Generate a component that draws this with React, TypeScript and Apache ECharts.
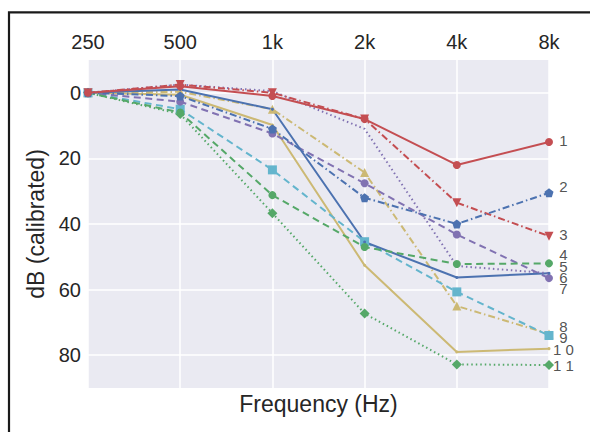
import React, { useEffect, useRef } from "react";
import * as echarts from "echarts";

const categories = ["250", "500", "1k", "2k", "4k", "8k"];
const yTicks = [0, 20, 40, 60, 80];

const s1 = [0, -2, 1, 8, 22, 15];
const s2 = [0, 1, 11, 32, 40, 30.5];
const s3 = [0, -2.5, 0, 8, 33.5, 43.7];
const s4 = [0, 6, 31.2, 47, 52.2, 52];
const s5 = [0, -2.5, -0.5, 11, 52.8, 55];
const s6 = [0, -1, 5, 45.5, 56.3, 55];
const s7 = [0, 2.7, 12.4, 27.6, 43.2, 56.5];
const s8 = [0, 5, 23.5, 45.4, 60.7, 74];
const s9 = [0, -0.3, 5, 24.3, 65, 73.5];
const s10 = [0, 0.6, 9.8, 52.6, 79, 78];
const s11 = [0, 6.5, 36.7, 67.3, 82.8, 83];

const endLabels = ["1", "2", "3", "4", "5", "6", "7", "8", "9", "1 0", "1 1"];
const endLabelY = [14.4, 28.6, 43.2, 49.3, 52.9, 56.4, 59.8, 71.2, 74.6, 78.4, 83.0];

const BLUE = "#4C72B0";
const GREEN = "#55A868";
const RED = "#C44E52";
const PURPLE = "#8172B2";
const YELLOW = "#CCB974";
const CYAN = "#64B5CD";

const DOT = [1.5, 3];
const DASH = [7, 4.5];
const DASHDOT = [7, 3, 1.5, 3];

const PENTAGON = "path://M0,-10 L9.51,-3.09 L5.88,8.09 L-5.88,8.09 L-9.51,-3.09 Z";

const FONT = "Liberation Sans";
const TEXT = "#262626";

function line(data: number[], color: string, type: any, symbol: string, size: number, rotate = 0, z = 2) {
  return {
    type: "line",
    data,
    symbol,
    symbolSize: size,
    symbolRotate: rotate,
    showSymbol: symbol !== "none",
    z,
    clip: false,
    lineStyle: { color, width: 2, type },
    itemStyle: { color },
    emphasis: { disabled: true },
  };
}

export default function App() {
  const ref = useRef<HTMLDivElement>(null);
  useEffect(() => {
    if (!ref.current) return;
    const chart = echarts.init(ref.current, undefined, { renderer: "svg" });
    const series: any[] = [
      line(s11, GREEN, DOT, "diamond", 10),
      line(s10, YELLOW, "solid", "circle", 3),
      line(s9, YELLOW, DASHDOT, "triangle", 9),
      line(s8, CYAN, DASH, "rect", 9),
      line(s7, PURPLE, DASH, "circle", 8),
      line(s6, BLUE, "solid", "circle", 3),
      line(s5, PURPLE, DOT, "none", 0),
      line(s4, GREEN, DASH, "circle", 8),
      line(s3, RED, DASHDOT, "triangle", 9, 180),
      line(s2, BLUE, DASHDOT, PENTAGON, 9),
      line(s1, RED, "solid", "circle", 8, 0, 3),
      {
        type: "scatter",
        data: endLabelY.map((v) => [5, v]),
        symbolSize: 0,
        silent: true,
        clip: false,
        label: {
          show: true,
          position: "right",
          distance: 14.5,
          align: "center",
          formatter: (p: any) => endLabels[p.dataIndex],
          fontFamily: FONT,
          fontSize: 15,
          lineHeight: 11,
          color: TEXT,
        },
      },
    ];
    chart.setOption({
      animation: false,
      grid: {
        left: 88,
        top: 60,
        width: 461,
        height: 328,
        show: true,
        backgroundColor: "#EAEAF2",
        borderWidth: 0,
      },
      graphic: [
        {
          type: "rect",
          shape: { x: 9, y: 12.3, width: 700, height: 600 },
          style: { fill: "none", stroke: "#1a1a1a", lineWidth: 2.2 },
          silent: true,
          z: 100,
        },
      ],
      xAxis: [
        {
          type: "category",
          data: categories,
          position: "top",
          boundaryGap: false,
          axisLine: { show: false },
          axisTick: { show: false },
          axisLabel: { fontFamily: FONT, fontSize: 20, color: TEXT, margin: 8 },
          splitLine: { show: true, lineStyle: { color: "#ffffff", width: 1.5 } },
        },
        {
          type: "category",
          data: categories,
          position: "bottom",
          boundaryGap: false,
          axisLine: { show: false },
          axisTick: { show: false },
          axisLabel: { show: false },
          splitLine: { show: false },
          name: "Frequency (Hz)",
          nameLocation: "middle",
          nameGap: 4,
          nameTextStyle: { fontFamily: FONT, fontSize: 23, color: TEXT, verticalAlign: "top" },
        },
      ],
      yAxis: {
        type: "value",
        inverse: true,
        min: -10,
        max: 90,
        axisLine: { show: false },
        axisTick: { show: false, customValues: yTicks },
        axisLabel: { customValues: yTicks, fontFamily: FONT, fontSize: 20, color: TEXT, margin: 7 },
        splitLine: { show: true, lineStyle: { color: "#ffffff", width: 1.5 } },
        name: "dB (calibrated)",
        nameLocation: "middle",
        nameGap: 38,
        nameTextStyle: { fontFamily: FONT, fontSize: 23, color: TEXT },
      },
      series,
    });
    return () => chart.dispose();
  }, []);
  return (
    <div
      ref={ref}
      style={{ position: "absolute", left: 0, top: 0, width: 590, height: 432, background: "#fff" }}
    />
  );
}
